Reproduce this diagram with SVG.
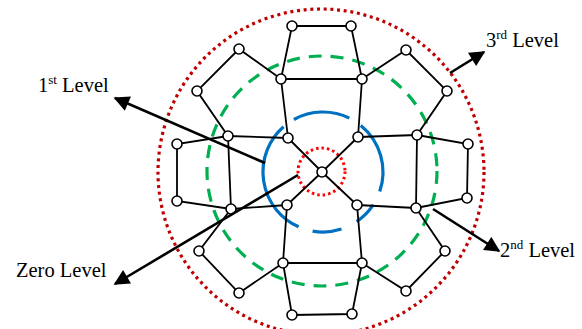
<svg xmlns="http://www.w3.org/2000/svg" width="582" height="329" viewBox="0 0 582 329">
<style>
.e{stroke:#000;stroke-width:1.8;fill:none}
.n{fill:#fff;stroke:#000;stroke-width:1.6}
.a{stroke:#000;stroke-width:2.6;fill:none}
.t{font-family:"Liberation Serif","Times New Roman",serif;font-size:20.5px;fill:#000}
.s{font-size:13px}
</style>
<defs>
<marker id="ah" viewBox="0 0 10 10" refX="9" refY="5" markerWidth="6.5" markerHeight="6" markerUnits="strokeWidth" orient="auto">
<path d="M0,0 L10,5 L0,10 Z" fill="#000"/>
</marker>
</defs>
<rect width="582" height="329" fill="#fff"/>
<g id="levels">
<circle id="level3" cx="321" cy="172" r="163" fill="none" stroke="#C00000" stroke-width="3.2" stroke-dasharray="3 3.7"/>
<circle id="level2" cx="322" cy="171" r="115" fill="none" stroke="#00B050" stroke-width="3.2" stroke-dasharray="13 9"/>
<path id="level1" fill="none" stroke="#0070C0" stroke-width="3.2" d="M293.9,119.5 A60,60 0 0 1 349.3,118.1 M360.8,125.4 A60,60 0 0 1 379.7,191.5 M373.3,204.7 A60,60 0 0 1 356.6,221.7 M341.5,229.1 A60,60 0 0 1 312.6,231.1 M298.6,226.8 A60,60 0 0 1 283.6,126.7"/>
<circle id="level0" cx="321.5" cy="171.5" r="23.5" fill="none" stroke="#FF0000" stroke-width="3" stroke-dasharray="2.5 3"/>
</g>
<g id="edges">
<path class="e" d="M292,26 L351,26 M292,26 L281,79 M351,26 L362,79 M281,79 L362,79 M281,79 L288,138 M362,79 L358,137"/>
<path class="e" d="M281,79 L239,49 L197,91 L228,136 L288,138"/>
<path class="e" d="M362,79 L406,50 L447,91 L417,135 L358,137"/>
<path class="e" d="M228,136 L177,144 L177,201 L231,209 M228,136 L231,209 M231,209 L287,205"/>
<path class="e" d="M417,135 L468,144 L467,198 L416,208 M417,135 L416,208 M416,208 L357,205"/>
<path class="e" d="M322,172 L288,138 M322,172 L358,137 M322,172 L287,205 M322,172 L357,205"/>
<path class="e" d="M231,209 L199,251 L239,293 L283,263 L287,205"/>
<path class="e" d="M416,208 L445,251 L406,291 L362,263 L357,205"/>
<path class="e" d="M283,263 L362,263 M283,263 L292,315 L352,314 L362,263"/>
</g>
<g id="nodes">
<circle id="n1" class="n" cx="292" cy="26" r="5"/>
<circle id="n2" class="n" cx="351" cy="26" r="5"/>
<circle id="n3" class="n" cx="239" cy="49" r="5"/>
<circle id="n4" class="n" cx="406" cy="50" r="5"/>
<circle id="n5" class="n" cx="281" cy="79" r="5"/>
<circle id="n6" class="n" cx="362" cy="79" r="5"/>
<circle id="n7" class="n" cx="197" cy="91" r="5"/>
<circle id="n8" class="n" cx="447" cy="91" r="5"/>
<circle id="n9" class="n" cx="228" cy="136" r="5"/>
<circle id="n10" class="n" cx="288" cy="138" r="5"/>
<circle id="n11" class="n" cx="358" cy="137" r="5"/>
<circle id="n12" class="n" cx="417" cy="135" r="5"/>
<circle id="n13" class="n" cx="177" cy="144" r="5"/>
<circle id="n14" class="n" cx="468" cy="144" r="5"/>
<circle id="n15" class="n" cx="322" cy="172" r="5"/>
<circle id="n16" class="n" cx="177" cy="201" r="5"/>
<circle id="n17" class="n" cx="467" cy="198" r="5"/>
<circle id="n18" class="n" cx="231" cy="209" r="5"/>
<circle id="n19" class="n" cx="287" cy="205" r="5"/>
<circle id="n20" class="n" cx="357" cy="205" r="5"/>
<circle id="n21" class="n" cx="416" cy="208" r="5"/>
<circle id="n22" class="n" cx="199" cy="251" r="5"/>
<circle id="n23" class="n" cx="445" cy="251" r="5"/>
<circle id="n24" class="n" cx="283" cy="263" r="5"/>
<circle id="n25" class="n" cx="362" cy="263" r="5"/>
<circle id="n26" class="n" cx="239" cy="293" r="5"/>
<circle id="n27" class="n" cx="406" cy="291" r="5"/>
<circle id="n28" class="n" cx="292" cy="315" r="5"/>
<circle id="n29" class="n" cx="352" cy="314" r="5"/>
</g>
<g id="arrows">
<line class="a" x1="265" y1="163" x2="115" y2="98" marker-end="url(#ah)"/>
<line class="a" x1="298" y1="175" x2="115" y2="284" marker-end="url(#ah)"/>
<line class="a" x1="450" y1="73" x2="484" y2="52" marker-end="url(#ah)"/>
<line class="a" x1="433" y1="209" x2="499" y2="251" marker-end="url(#ah)"/>
</g>
<g id="labels">
<text class="t" x="38" y="92">1<tspan class="s" dy="-8">st</tspan><tspan dy="8"> Level</tspan></text>
<text class="t" x="16" y="277">Zero Level</text>
<text class="t" x="486" y="47">3<tspan class="s" dy="-8">rd</tspan><tspan dy="8"> Level</tspan></text>
<text class="t" x="500" y="257">2<tspan class="s" dy="-8">nd</tspan><tspan dy="8"> Level</tspan></text>
</g>
</svg>
